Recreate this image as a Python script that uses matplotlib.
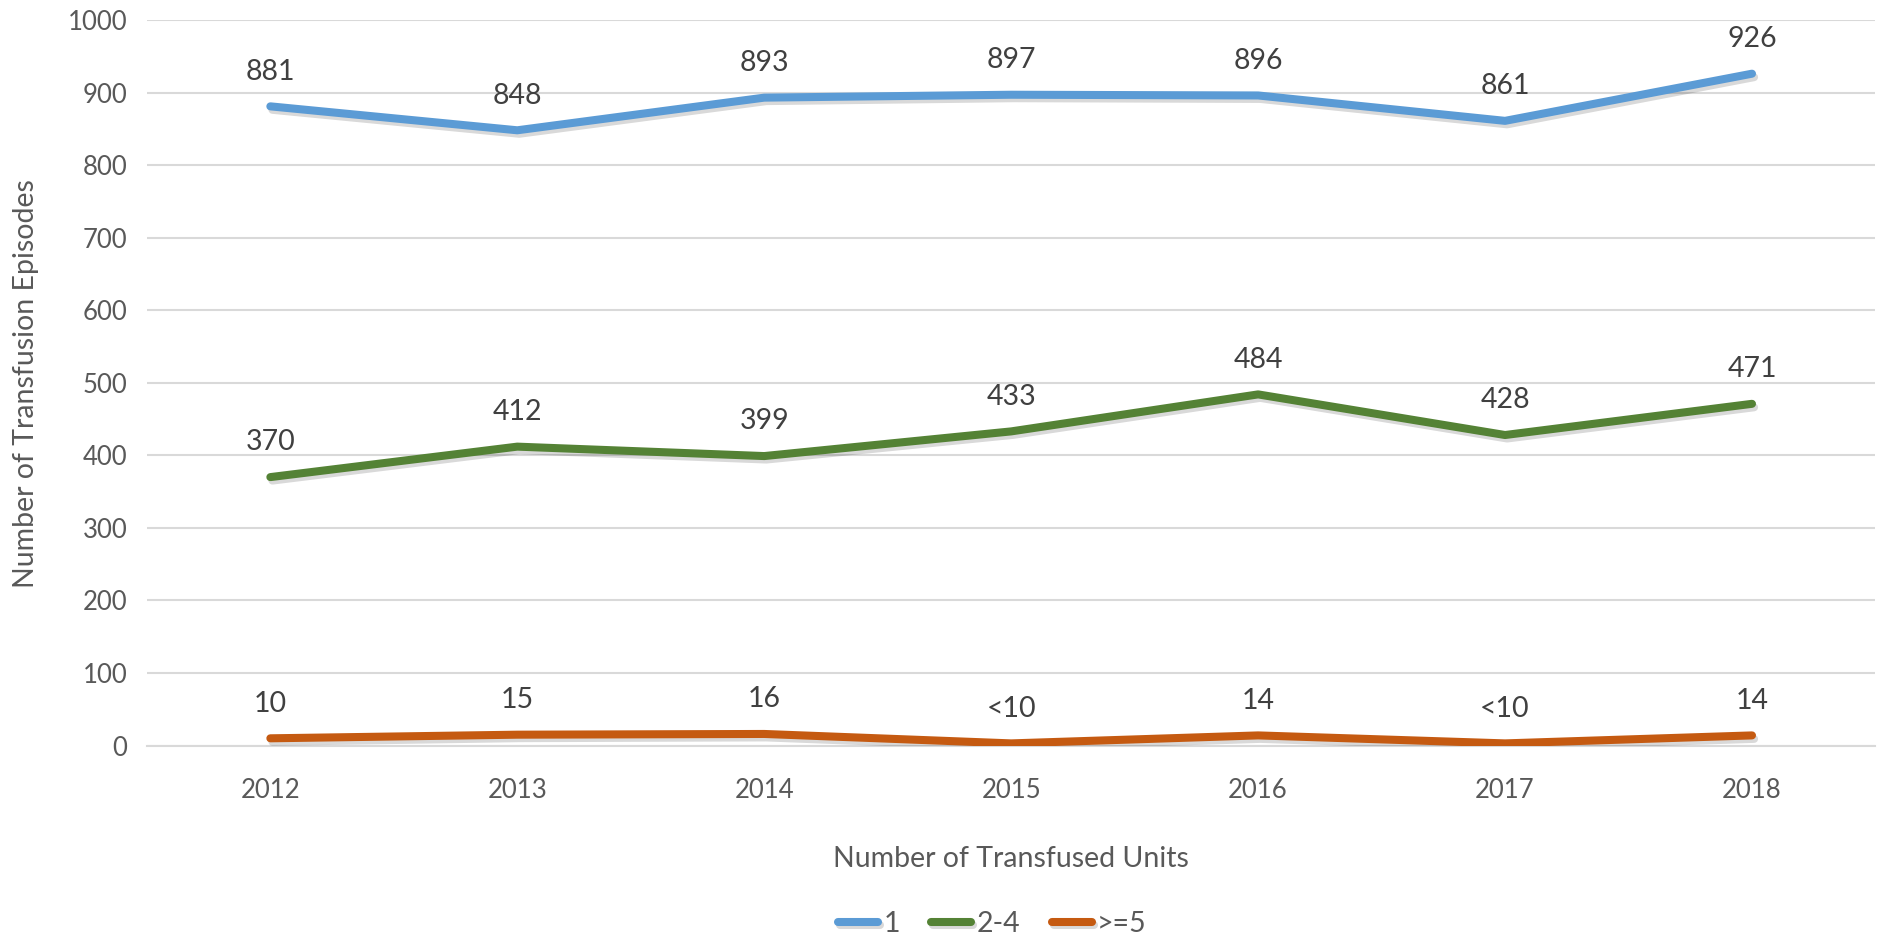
import matplotlib.pyplot as plt
import matplotlib.patheffects as pe
import numpy as np

# data
years = ['2012', '2013', '2014', '2015', '2016', '2017', '2018']
units_1 = [881, 848, 893, 897, 896, 861, 926]
units_2_4 = [370, 412, 399, 433, 484, 428, 471]
units_5_plus = [10, 15, 16, 3, 14, 3, 14]
labels_5_plus = ['10', '15', '16', '<10', '14', '<10', '14']
series_names = ['1', '2-4', '>=5']

plt.rcParams['font.family'] = ['Lato', 'DejaVu Sans']

fig = plt.figure(figsize=(18.83, 9.39), dpi=100)
ax = fig.add_axes([0.078, 0.206, 0.918, 0.7727])

x = np.arange(len(years))
colors = ['#5B9BD5', '#548235', '#C55A11']
all_values = [units_1, units_2_4, units_5_plus]
all_labels = [[str(v) for v in units_1], [str(v) for v in units_2_4], labels_5_plus]

shadow = [pe.SimpleLineShadow(offset=(1.5, -2.5), shadow_color='#000000', alpha=0.15), pe.Normal()]

for vals, labs, col, name in zip(all_values, all_labels, colors, series_names):
    ax.plot(x, vals, color=col, lw=5.8, solid_capstyle='round', solid_joinstyle='round',
            label=name, path_effects=shadow, zorder=3)
    for xi, v, lab in zip(x, vals, labs):
        ax.annotate(lab, (xi, v), xytext=(0, 25), textcoords='offset points',
                    ha='center', va='center', fontsize=20.5, color='#404040')

ax.set_xlim(-0.5, len(years) - 0.5)
ax.set_ylim(0, 1000)
ax.set_yticks(np.arange(0, 1001, 100))
ax.set_xticks(x)
ax.set_xticklabels(years)
ax.grid(axis='y', color='#D9D9D9', lw=1.5)
ax.set_axisbelow(True)
for s in ['top', 'right', 'left']:
    ax.spines[s].set_visible(False)
ax.spines['bottom'].set_color('#D9D9D9')
ax.spines['bottom'].set_linewidth(1.5)
ax.tick_params(axis='both', length=0, labelsize=18.5, labelcolor='#595959')
ax.tick_params(axis='x', pad=23)
ax.tick_params(axis='y', pad=14)

fig.text(0.014, 0.591, 'Number of Transfusion Episodes', rotation=90, ha='center', va='center',
         fontsize=20.5, color='#595959')
fig.text(0.537, 0.085, 'Number of Transfused Units', ha='center', va='center',
         fontsize=20.5, color='#595959')

leg = fig.legend(loc='center', bbox_to_anchor=(0.527, 0.016), ncol=3, frameon=False,
                 fontsize=20.5, handlelength=1.4, columnspacing=1.1, handletextpad=0.2)
for t in leg.get_texts():
    t.set_color('#595959')

fig.savefig('out.png', dpi=100)
